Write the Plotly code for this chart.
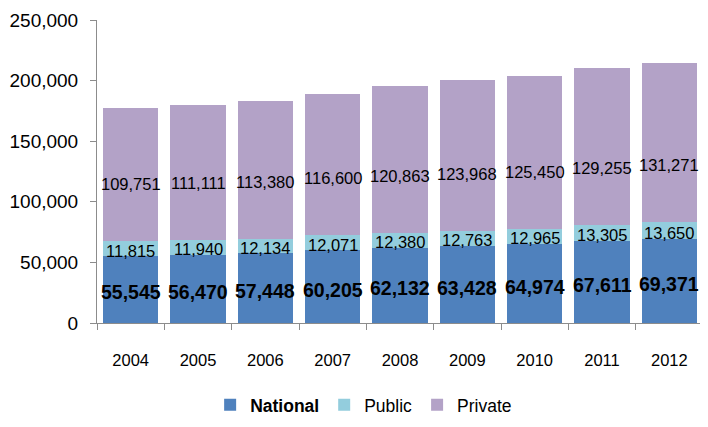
import plotly.graph_objects as go

years = ["2004", "2005", "2006", "2007", "2008", "2009", "2010", "2011", "2012"]
national = [55545, 56470, 57448, 60205, 62132, 63428, 64974, 67611, 69371]
public = [11815, 11940, 12134, 12071, 12380, 12763, 12965, 13305, 13650]
private = [109751, 111111, 113380, 116600, 120863, 123968, 125450, 129255, 131271]

FONT = "Liberation Sans, Arial, sans-serif"
AXIS_COLOR = "#8c8c8c"

fig = go.Figure()
fig.add_trace(go.Bar(x=years, y=national, name="<b>National</b>",
                     marker=dict(color="#4f81bd", line=dict(width=0))))
fig.add_trace(go.Bar(x=years, y=public, name="Public",
                     marker=dict(color="#93cddd", line=dict(width=0))))
fig.add_trace(go.Bar(x=years, y=private, name="Private",
                     marker=dict(color="#b3a2c7", line=dict(width=0))))

# value labels, placed from the data (x = category index on the category axis)
labels = []
for i, (n, pu, pr) in enumerate(zip(national, public, private)):
    labels.append(dict(x=i, y=n / 2, text=f"<b>{n:,}</b>", yshift=-3,
                       font=dict(size=19.5, color="black")))
    labels.append(dict(x=i, y=n + pu / 2, text=f"{pu:,}", yshift=-2,
                       font=dict(size=16.5, color="black")))
    labels.append(dict(x=i, y=n + pu, text=f"{pr:,}", yshift=57,
                       font=dict(size=16.5, color="black")))
for a in labels:
    a.update(xref="x", yref="y", showarrow=False, xanchor="center", yanchor="middle")

fig.update_layout(
    barmode="stack",
    bargap=0.18,
    width=708, height=427,
    paper_bgcolor="white", plot_bgcolor="white",
    font=dict(family=FONT, size=17, color="black"),
    margin=dict(l=89, r=13, t=12, b=112),
    annotations=labels,
    showlegend=True,
    legend=dict(orientation="h", x=0.44, xanchor="center", y=-0.27, yanchor="middle",
                font=dict(size=17.5), traceorder="normal", itemwidth=30),
    xaxis=dict(type="category", automargin=False, showline=True, linecolor=AXIS_COLOR,
               linewidth=1, ticks="outside", ticklen=6, tickcolor=AXIS_COLOR,
               tickson="boundaries", showgrid=False, tickangle=0,
               tickfont=dict(size=16.5), ticklabelstandoff=22),
    yaxis=dict(range=[0, 250000], dtick=50000, tickformat=",d", automargin=False,
               showline=True, linecolor=AXIS_COLOR, linewidth=1,
               ticks="outside", ticklen=6, tickcolor=AXIS_COLOR,
               showgrid=False, zeroline=False,
               tickfont=dict(size=19), ticklabelstandoff=8),
)

fig.write_html("out.html")
